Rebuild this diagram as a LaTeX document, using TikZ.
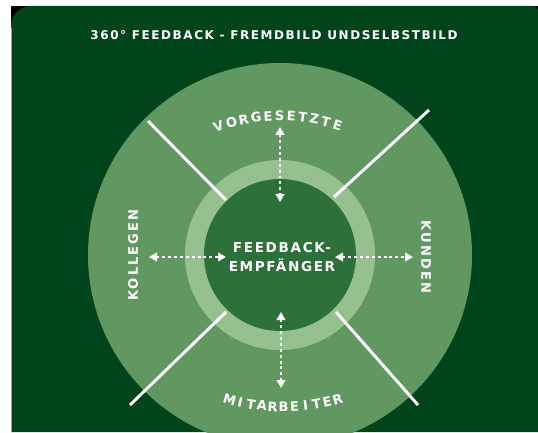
\documentclass[tikz,border=0pt]{standalone}
\usepackage{fontspec}
\setmainfont{DejaVu Sans}
\newfontfamily\titlefont[LetterSpace=13]{DejaVu Sans}
\newfontfamily\labelfont[LetterSpace=12]{DejaVu Sans}
\newfontfamily\sidefont[LetterSpace=16]{DejaVu Sans}
\usetikzlibrary{arrows.meta}

\definecolor{bgdark}{RGB}{0,68,27}
\definecolor{outergreen}{RGB}{97,151,96}
\definecolor{ringgreen}{RGB}{150,192,144}
\definecolor{innergreen}{RGB}{45,112,57}
\definecolor{edgegrey}{RGB}{150,170,155}

% letters of a word set one by one along an arc:
% #1 name prefix, #2 arc centre, #3 radius, #4 letter/angle pairs,
% #5 rotation offset
\newcommand\arcword[5]{%
  \foreach \ch/\ang [count=\k from 0] in {#4} {%
    \node[arcletter, rotate=\ang+#5] (#1-\k) at ([shift={(\ang:#3)}]#2) {\ch};
  }%
}

\begin{document}
\begin{tikzpicture}[x=0.75pt, y=0.75pt,
  divider/.style={white, line width=2.2pt},
  dotarrow/.style={white, line width=2pt, dash pattern=on 2.2pt off 2.2pt,
    {Triangle[width=6.5pt,length=6pt]}-{Triangle[width=6.5pt,length=6pt]}},
  arcletter/.style={text=white, inner sep=0pt, anchor=center,
    font=\fontsize{9.8}{11}\bfseries},
  sidelabel/.style={text=white, inner sep=0pt,
    font=\sidefont\fontsize{9.8}{11}\bfseries},
  heading/.style={text=white, inner sep=0pt,
    font=\titlefont\fontsize{9}{10}\bfseries},
  centrelabel/.style={text=white, inner sep=0pt, align=center,
    font=\labelfont\fontsize{10.2}{14.2}\bfseries}]

\useasboundingbox (0,0) rectangle (538,432);

% paper and card
\fill[white] (0,0) rectangle (538,432);
\fill[black] (11,404) rectangle (32,426);
\fill[black] (530,418) rectangle (538,426);
\fill[bgdark] (11,0) -- (11,406) arc[start angle=180, end angle=90, radius=20]
  -- (534,426) arc[start angle=90, end angle=0, radius=4] -- (538,0) -- cycle;
\draw[edgegrey, line width=1pt] (11.7,0) -- (11.7,404);

% circles
\coordinate (c) at (280,177);
\fill[outergreen] (c) circle[radius=192];
\fill[ringgreen] (c) circle[radius=95];

% dividers between the four groups
\coordinate (ul-out) at (148,311);  \coordinate (ul-in) at (226,232);
\coordinate (ur-out) at (429,322);  \coordinate (ur-in) at (334,235);
\coordinate (ll-out) at (130,27);   \coordinate (ll-in) at (226,120);
\coordinate (lr-out) at (418,27);   \coordinate (lr-in) at (336,120);
\draw[divider] (ul-out) -- (ul-in);
\draw[divider] (ur-out) -- (ur-in);
\draw[divider] (ll-out) -- (ll-in);
\draw[divider] (lr-out) -- (lr-in);

\fill[innergreen] (c) circle[radius=76];

% two-way arrows
\coordinate (t-a) at (280,305); \coordinate (t-b) at (280,230);
\coordinate (b-a) at (281,120); \coordinate (b-b) at (281,44);
\coordinate (l-a) at (149,175); \coordinate (l-b) at (226,175);
\coordinate (r-a) at (335,175); \coordinate (r-b) at (413,175);
\draw[dotarrow] (t-a) -- (t-b);
\draw[dotarrow] (b-a) -- (b-b);
\draw[dotarrow] (l-a) -- (l-b);
\draw[dotarrow] (r-a) -- (r-b);

% texts
\node[heading] (title) at (274,397) {360° FEEDBACK - FREMDBILD UNDSELBSTBILD};
\node[centrelabel] (receiver) at (282,175) {FEEDBACK-\\EMPFÄNGER};
\node[sidelabel, rotate=90] (colleagues) at (133,177) {KOLLEGEN};
\node[sidelabel, rotate=-90] (customers) at (426,175) {KUNDEN};

\coordinate (ctop) at (280,126);
\arcword{vg}{ctop}{190}{V/108.9, O/104.8, R/101.0, G/97.2, E/93.6, S/90.1,
  E/86.6, T/83.1, Z/79.6, T/76.0, E/72.4}{-90}
\coordinate (cbot) at (283.5,218);
\arcword{ma}{cbot}{193}{M/253.8, I/257.05, T/260.3, A/263.55, R/266.8,
  B/270.05, E/273.3, I/276.55, T/279.8, E/283.05, R/286.3}{90}

\end{tikzpicture}
\end{document}
